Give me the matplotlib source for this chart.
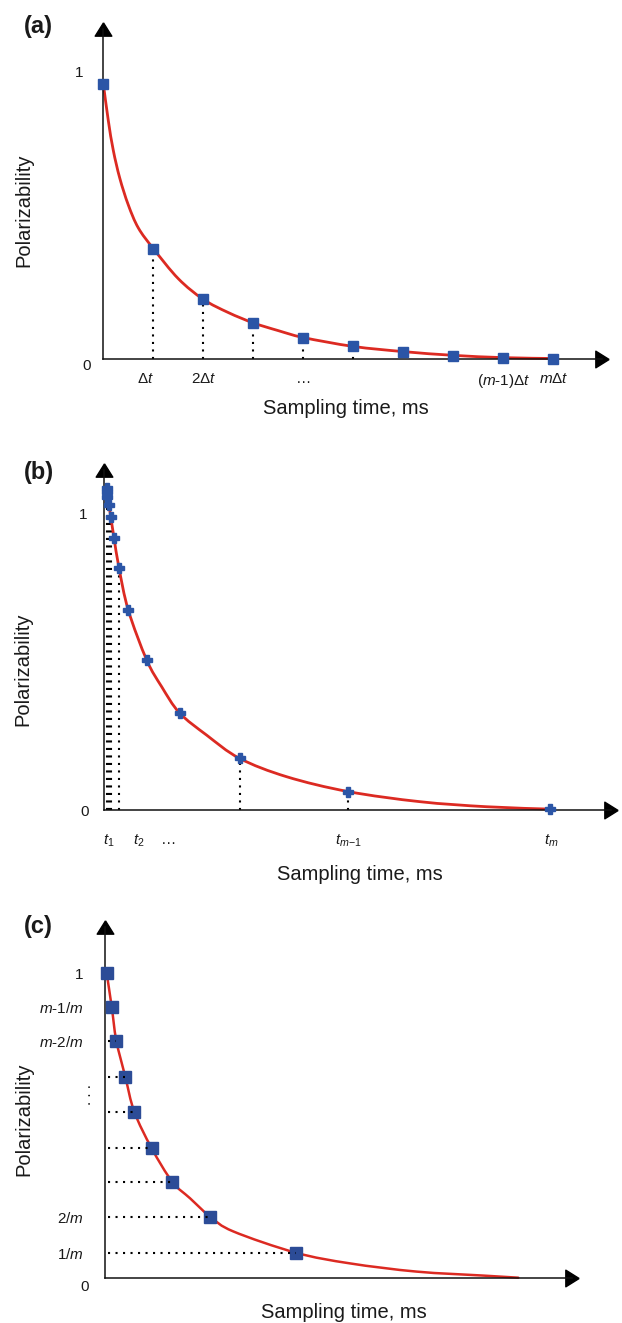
import matplotlib
matplotlib.use("Agg")
import matplotlib.pyplot as plt
from matplotlib.path import Path
from matplotlib.patches import PathPatch

plt.rcParams['font.family'] = ['Liberation Sans', 'DejaVu Sans']
plt.rcParams['mathtext.fontset'] = 'custom'
plt.rcParams['mathtext.rm'] = 'Liberation Sans'
plt.rcParams['mathtext.it'] = 'Liberation Sans:italic'
plt.rcParams['mathtext.bf'] = 'Liberation Sans:bold'

# (a) uniform sampling, time in units of dt
t_a = [0, 1, 2, 3, 4, 5, 6, 7, 8, 9]
p_a = [0.958, 0.383, 0.206, 0.124, 0.073, 0.042, 0.024, 0.010, 0.003, 0.0]
curve_t_a = [0, 0.1, 0.2, 0.33, 0.5, 0.7, 1, 1.5, 2, 2.5, 3, 3.5, 4, 5, 6, 7, 8, 9]
curve_p_a = [0.958, 0.829, 0.725, 0.628, 0.535, 0.455, 0.383, 0.278, 0.206,
             0.160, 0.124, 0.097, 0.073, 0.042, 0.024, 0.011, 0.003, 0.0]
drop_a = [1, 2, 3, 4, 5]
xticks_a = [0.85, 2, 4, 8, 9]
xlabels_a = [r'$\Delta t$', r'$2\Delta t$', '…', r'$(m$-$1)\Delta t$', r'$m\Delta t$']

# (b) log-spaced sampling
t_b = [2.5, 2.7, 3.0, 5.0, 6.7, 10.0, 15.0, 24.3, 42.7, 75.5, 135.5, 244.3, 446]
p_b = [1.084, 1.071, 1.054, 1.027, 0.988, 0.917, 0.815, 0.673, 0.505, 0.327,
       0.174, 0.062, 0.003]
curve_t_b = [5.0, 6.7, 10.0, 15.0, 24.3, 42.7, 57.7, 75.5, 102.7, 135.5, 182.7,
             244.3, 316, 382.7, 446]
curve_p_b = [1.027, 0.988, 0.917, 0.815, 0.673, 0.505, 0.415, 0.327, 0.252, 0.174,
             0.112, 0.062, 0.028, 0.011, 0.003]
drop_b = [0, 3, 4, 6, 10, 11]
xticks_b = [5, 35, 65, 244, 447]
xlabels_b = [r'$t_1$', r'$t_2$', '…', r'$t_{m\mathrm{-}1}$', r'$t_m$']

# (c) equal polarizability steps
t_c = [1.7, 6.7, 11.3, 20.3, 29.3, 46.7, 67.3, 105.3, 191]
p_c = [1.0, 0.890, 0.779, 0.660, 0.545, 0.425, 0.315, 0.200, 0.082]
curve_t_c = [1.7, 6.7, 11.3, 20.3, 29.3, 46.7, 67.3, 85, 105.3, 128.3, 191, 245,
             311.7, 378, 413.3]
curve_p_c = [1.0, 0.890, 0.779, 0.660, 0.545, 0.425, 0.315, 0.261, 0.200, 0.152,
             0.082, 0.047, 0.020, 0.007, 0.0]
hdots_c = [2, 3, 4, 5, 6, 7, 8]
yticks_c = [0, 1, 2, 7, 8]
ylabels_c = ['1', '$m$-1/$m$', '$m$-2/$m$', '2/$m$', '1/$m$']

RED = '#dc2a22'
BLUE = '#2b55a6'
BLUE_C = '#2c4c97'
TXT = '#1a1a1a'
DOTS = (0, (1, 2.6))

W, H = 622, 1323
fig = plt.figure(figsize=(W / 100, H / 100), dpi=100)

head_up = [(0, 0.8), (-1, -0.8), (1, -0.8), (0, 0.8)]
head_right = [(0.8, 0), (-0.8, 1), (-0.8, -1), (0.8, 0)]


def panel(left, right, bottom, top, xmax, ymax):
    ax = fig.add_axes([left / W, 1 - bottom / H, (right - left) / W, (bottom - top) / H])
    ax.set_xlim(0, xmax)
    ax.set_ylim(0, ymax)
    for s in ['top', 'right']:
        ax.spines[s].set_visible(False)
    for s in ['left', 'bottom']:
        ax.spines[s].set_linewidth(1.1)
        ax.spines[s].set_color('#111111')
    ax.plot(0, 1, marker=head_up, ms=12, color='k', transform=ax.transAxes, clip_on=False)
    ax.plot(1, 0, marker=head_right, ms=12, color='k', transform=ax.transAxes, clip_on=False)
    ax.tick_params(length=0, labelsize=11, labelcolor=TXT)
    return ax


def smooth_line(ax, xs, ys, **kw):
    # smoothed line through the points, drawn as cubic Bezier pieces
    pts = list(zip(xs, ys))
    n = len(pts)
    verts = [pts[0]]
    codes = [Path.MOVETO]
    for i in range(n - 1):
        p0 = pts[max(i - 1, 0)]
        p1 = pts[i]
        p2 = pts[i + 1]
        p3 = pts[min(i + 2, n - 1)]
        c1 = (p1[0] + (p2[0] - p0[0]) / 6, p1[1] + (p2[1] - p0[1]) / 6)
        c2 = (p2[0] - (p3[0] - p1[0]) / 6, p2[1] - (p3[1] - p1[1]) / 6)
        verts += [c1, c2, p2]
        codes += [Path.CURVE4] * 3
    ax.add_patch(PathPatch(Path(verts, codes), fill=False, clip_on=False,
                           capstyle='round', joinstyle='round', **kw))


def labels(letter, letter_xy, xlab_xy, ylab_xy):
    fig.text(letter_xy[0] / W, 1 - letter_xy[1] / H, letter, fontsize=17,
             fontweight='bold', ha='center', va='center', color=TXT)
    fig.text(xlab_xy[0] / W, 1 - xlab_xy[1] / H, 'Sampling time, ms', fontsize=14.5,
             ha='center', va='center', color=TXT)
    fig.text(ylab_xy[0] / W, 1 - ylab_xy[1] / H, 'Polarizability', fontsize=14.5,
             rotation=90, ha='center', va='center', color=TXT)


def origin(ax, dx, dy):
    ax.annotate('0', xy=(0, 0), xytext=(dx, dy), textcoords='offset pixels',
                ha='center', va='center', fontsize=11, color=TXT, annotation_clip=False)


# ---- (a)
ax = panel(103.3, 602, 358.5, 29, 9.97, 1.148)
smooth_line(ax, curve_t_a, curve_p_a, edgecolor=RED, lw=2, zorder=2)
ax.vlines([t_a[i] for i in drop_a], 0, [p_a[i] for i in drop_a], colors='k',
          linestyles=DOTS, lw=1.5, zorder=1.5)
ax.plot(t_a, p_a, 's', ms=7, color=BLUE, zorder=3, clip_on=False)
ax.set_xticks(xticks_a, xlabels_a)
ax.set_yticks([1], ['1'])
ax.tick_params(axis='x', pad=10)
ax.tick_params(axis='y', pad=14.5)
origin(ax, -17, -7.5)
labels('(a)', (38, 27), (346, 408), (24, 210))

# ---- (b)
ax = panel(104, 611, 810, 470, 507, 1.145)
smooth_line(ax, curve_t_b, curve_p_b, edgecolor=RED, lw=2, zorder=2)
ax.vlines([t_b[i] for i in drop_b], 0, [p_b[i] for i in drop_b], colors='k',
          linestyles=DOTS, lw=1.5, zorder=1.5)
ax.plot(t_b, p_b, 'P', ms=7, color=BLUE, zorder=3, clip_on=False)
ax.set_xticks(xticks_b, xlabels_b)
ax.set_yticks([1], ['1'])
ax.tick_params(axis='x', pad=16.5)
ax.tick_params(axis='y', pad=12)
origin(ax, -19.5, -2)
labels('(b)', (39, 472), (360, 874), (23, 669))

# ---- (c)
ax = panel(105, 572, 1277.7, 927, 467, 1.152)
smooth_line(ax, curve_t_c, curve_p_c, edgecolor=RED, lw=1.8, zorder=2)
ax.hlines([p_c[i] for i in hdots_c], 3, [t_c[i] for i in hdots_c], colors='k',
          linestyles=DOTS, lw=1.5, zorder=4)
ax.plot(t_c, p_c, 's', ms=8.5, color=BLUE_C, zorder=3, clip_on=False)
ax.set_xticks([])
ax.set_yticks([p_c[i] for i in yticks_c], ylabels_c)
ax.tick_params(axis='y', pad=15.5)
ax.text(-18, (p_c[3] + p_c[4]) / 2, '. . .', rotation=90, ha='center', va='center',
        fontsize=11, color=TXT)
origin(ax, -20, -9.5)
labels('(c)', (38, 927), (344, 1313), (24, 1119))

fig.savefig('out.png', dpi=100)
